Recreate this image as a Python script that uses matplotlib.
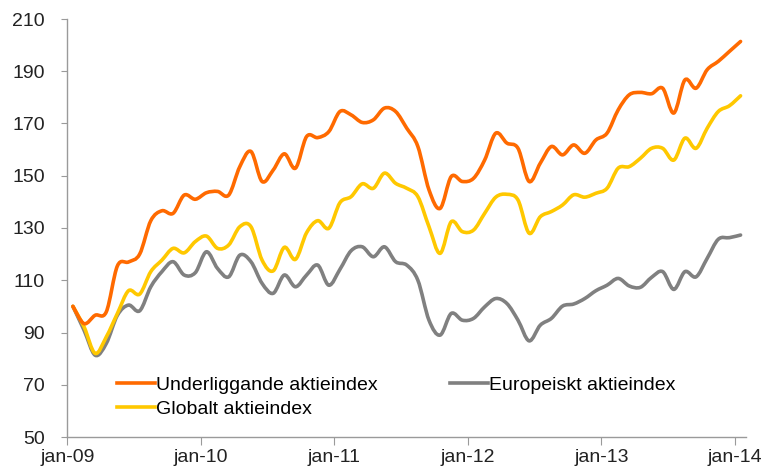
import numpy as np
import matplotlib
matplotlib.use("Agg")
import matplotlib.pyplot as plt
from matplotlib.path import Path
from matplotlib.patches import PathPatch
from matplotlib.lines import Line2D

plt.rcParams['font.family'] = ['Liberation Sans', 'DejaVu Sans']

# månadsvärden jan-09 .. jan-14 (index, start = 100)
underliggande = [100, 93.4, 96.6, 97.9, 115.5, 117, 120, 132.8, 136.6, 135.6,
                 142.6, 141, 143.5, 144, 142.6, 153.5, 159.3, 147.8, 152.2, 158.4,
                 152.9, 165, 164.6, 166.9, 174.6, 173.3, 170.4, 171.4, 175.9, 174.6,
                 168.2, 161.2, 144.6, 137.5, 149.7, 147.8, 149, 156, 166.3, 162.5,
                 160.5, 147.8, 154.8, 161.2, 158, 161.8, 158.6, 163.7, 166.3, 175.2,
                 181, 181.9, 181.4, 183.5, 174, 186.7, 183.5, 190.6, 193.8, 197.6,
                 201.4]
globalt = [100, 92.2, 82, 88.3, 97.3, 106, 104.7, 113.3, 117.7, 122.2,
           120.5, 124.8, 126.9, 122.2, 123.5, 130.5, 130.5, 117.7, 113.6, 122.6,
           118, 128.2, 132.8, 129.9, 139.7, 142, 146.9, 145.2, 151, 147.1,
           145.2, 142, 130.5, 120.3, 132.4, 128.6, 129.2, 135.6, 141.8, 142.9,
           140.7, 128, 134.3, 136.3, 138.8, 142.7, 141.8, 143.3, 145.2, 152.9,
           153.5, 156.7, 160.5, 160.5, 156, 164.4, 160.5, 168.2, 174.6, 176.8,
           180.6]
europeiskt = [100, 90.9, 81.3, 85.8, 96.6, 100.5, 98.3, 107.5, 113.3, 117.1,
              112, 112.9, 120.9, 114.5, 111.3, 119.6, 117.1, 108.8, 105, 112,
              107.5, 112, 115.8, 108.1, 114.2, 121.3, 122.8, 119, 122.8, 117.1,
              115.8, 110, 94.7, 89, 97.3, 94.7, 95.4, 99.8, 103, 101.1,
              94.7, 86.8, 92.8, 95.4, 100.1, 100.9, 103, 106, 108.1, 110.7,
              107.8, 107.3, 111.1, 113.3, 106.5, 113.3, 111.3, 118.4, 125.7, 126.3,
              127.3]
tick_labels = ['jan-09', 'jan-10', 'jan-11', 'jan-12', 'jan-13', 'jan-14']

serier = [
    ('Underliggande aktieindex', underliggande, '#FF6A00'),
    ('Globalt aktieindex', globalt, '#FFC800'),
    ('Europeiskt aktieindex', europeiskt, '#808080'),
]


def smooth_path(x, y):
    # utjämnad linje genom punkterna (Catmull-Rom som Bezier)
    pts = np.column_stack([x, y])
    n = len(pts)
    verts = [pts[0]]
    codes = [Path.MOVETO]
    for i in range(n - 1):
        p0 = pts[i - 1] if i > 0 else pts[i]
        p1 = pts[i]
        p2 = pts[i + 1]
        p3 = pts[i + 2] if i + 2 < n else pts[i + 1]
        verts += [p1 + (p2 - p0) / 6, p2 - (p3 - p1) / 6, p2]
        codes += [Path.CURVE4] * 3
    return Path(verts, codes)


fig = plt.figure(figsize=(7.74, 4.75), dpi=100)
ax = fig.add_axes([0.087, 0.08, 0.877, 0.88])

x = np.arange(len(underliggande)) + 0.5
handles = []
# grå först så att den hamnar underst
for namn, vals, farg in serier[::-1]:
    ax.add_patch(PathPatch(smooth_path(x, np.array(vals, float)), fill=False,
                           edgecolor=farg, lw=2.6, capstyle='round', joinstyle='round'))
for namn, vals, farg in serier:
    handles.append(Line2D([], [], color=farg, lw=2.6, label=namn))

ax.set_xlim(0, 61)
ax.set_ylim(50, 210)
ax.set_xticks(np.arange(0, 61, 12))
ax.set_xticklabels(tick_labels)
ax.set_yticks(np.arange(50, 211, 20))

for s in ['top', 'right']:
    ax.spines[s].set_visible(False)
for s in ['left', 'bottom']:
    ax.spines[s].set_color('#9A9A9A')
    ax.spines[s].set_linewidth(1.0)
ax.tick_params(axis='y', length=4, color='#9A9A9A', labelsize=14, pad=12, labelcolor='#222222')
ax.tick_params(axis='x', length=6, color='#9A9A9A', labelsize=14, pad=3, labelcolor='#222222')

ax.legend(handles=handles, ncol=2, loc='lower left', bbox_to_anchor=(0.0736, 0.045),
          frameon=False, fontsize=14, handlelength=1.95, handletextpad=0.05,
          columnspacing=3.7, labelspacing=0.35, borderaxespad=0, borderpad=0)

fig.savefig('out.png', dpi=100)
